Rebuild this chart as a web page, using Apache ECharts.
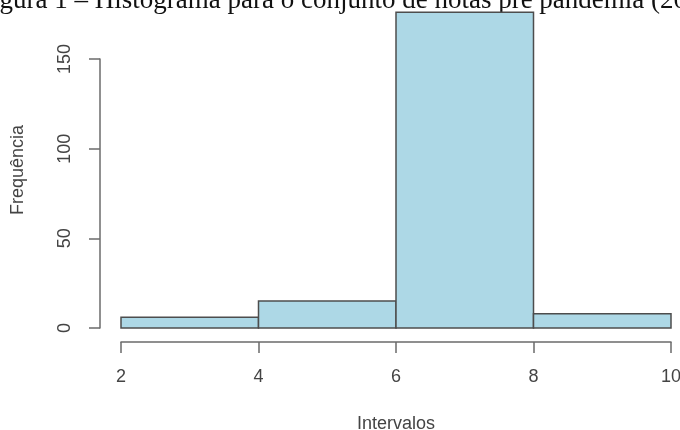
<!DOCTYPE html>
<html>
  <head>
    <meta charset="utf-8">
    <title>Histograma</title>
    <style type="text/css">
    html, body {margin:0; padding:0; background:#fff;}
    #hist {width:680px; height:430px;}
    </style>
    <script src="https://cdn.jsdelivr.net/npm/echarts@6/dist/echarts.min.js"></script>
  </head>
  <body>
    <div id="hist"></div>
    <script type="text/javascript">
      // classes do histograma (limites) e frequencias
      var binStart = [2, 4, 6, 8];
      var binEnd = [4, 6, 8, 10];
      var freq = [6, 15, 176, 8];
      var xTicks = [2, 4, 6, 8, 10];
      var yTicks = [0, 50, 100, 150];

      var textGray = '#444';
      var lineGray = '#6b6b6b';

      var histData = [];
      for (var i = 0; i < freq.length; i++) {
        histData.push([binStart[i], binEnd[i], freq[i]]);
      }

      var myChart = echarts.init(document.getElementById('hist'));
      var option = {
        animation: false,
        grid: {left: 121, right: 9, top: 59, bottom: 102, outerBoundsMode: 'none', containLabel: false},
        graphic: [
          {
            type: 'text', left: -23, top: -13, silent: true,
            style: {text: 'Figura 1 \u2013 Histograma para o conjunto de notas pr\u00e9 pandemia (2019)',
                    font: '27px "Liberation Serif"', fill: '#111'}
          },
          {
            type: 'text', x: 18, y: 170, rotation: Math.PI / 2, silent: true,
            style: {text: 'Frequ\u00eancia', font: '18px "Liberation Sans"', fill: textGray,
                    align: 'center', verticalAlign: 'middle'}
          }
        ],
        xAxis: {
          type: 'value', min: xTicks[0], max: xTicks[xTicks.length - 1], interval: 2,
          offset: 14,
          splitLine: {show: false},
          axisLine: {show: true, onZero: false, lineStyle: {color: lineGray, width: 1.5}},
          axisTick: {show: true, length: 11, lineStyle: {color: lineGray, width: 1.5}},
          axisLabel: {color: textGray, fontSize: 18, fontFamily: 'Liberation Sans', margin: 26,
                      showMinLabel: true, showMaxLabel: true},
          name: 'Intervalos', nameLocation: 'middle', nameGap: 73,
          nameTextStyle: {color: textGray, fontSize: 18, fontFamily: 'Liberation Sans'}
        },
        yAxis: {
          type: 'value', min: yTicks[0], max: yTicks[yTicks.length - 1], interval: 50,
          offset: 21,
          splitLine: {show: false},
          axisLine: {show: true, onZero: false, lineStyle: {color: lineGray, width: 1.5}},
          axisTick: {show: true, length: 11, lineStyle: {color: lineGray, width: 1.5}},
          axisLabel: {color: textGray, fontSize: 18, fontFamily: 'Liberation Sans', margin: 26,
                      rotate: 90, showMinLabel: true, showMaxLabel: true}
        },
        series: [{
          type: 'custom',
          clip: false,
          data: histData,
          encode: {x: [0, 1], y: 2},
          renderItem: function (params, api) {
            var p0 = api.coord([api.value(0), 0]);
            var p1 = api.coord([api.value(1), api.value(2)]);
            return {
              type: 'rect',
              shape: {x: p0[0], y: p1[1], width: p1[0] - p0[0], height: p0[1] - p1[1]},
              style: {fill: '#add8e6', stroke: '#4d4d4d', lineWidth: 1.5}
            };
          }
        }]
      };
      myChart.setOption(option);
    </script>
  </body>
</html>
